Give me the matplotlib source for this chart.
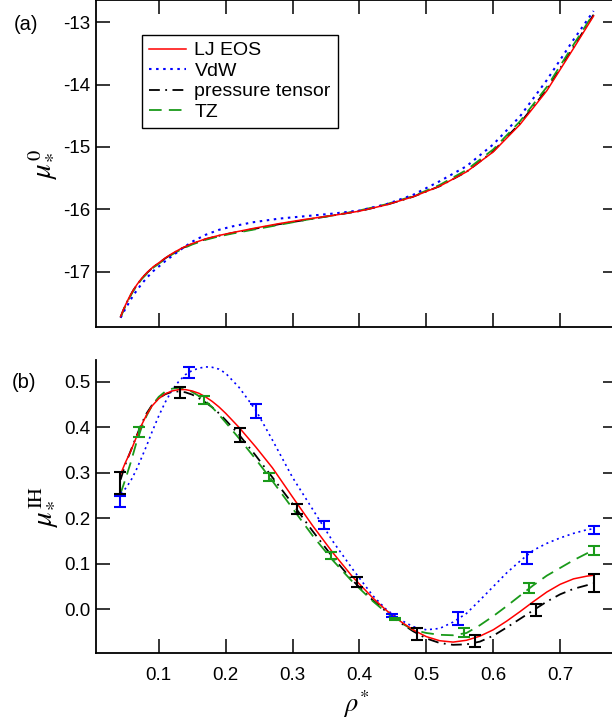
import numpy as np
import matplotlib.pyplot as plt

plt.rcParams['font.family'] = ['Liberation Sans', 'DejaVu Sans']
plt.rcParams['mathtext.fontset'] = 'stix'
plt.rcParams['axes.unicode_minus'] = False

# ---- panel (a): mu0* vs rho* ----
rho_a = [0.043, 0.047, 0.051, 0.056, 0.062, 0.068, 0.075, 0.083, 0.092, 0.10, 0.11, 0.12,
         0.135, 0.15, 0.17, 0.19, 0.21, 0.24, 0.28, 0.32, 0.36, 0.40, 0.44, 0.48, 0.52,
         0.56, 0.60, 0.64, 0.68, 0.72, 0.75]
mu0_lj = [-17.72, -17.615, -17.52, -17.41, -17.295, -17.20, -17.10, -17.01, -16.92, -16.86,
          -16.78, -16.71, -16.62, -16.55, -16.475, -16.42, -16.375, -16.31, -16.23, -16.16,
          -16.10, -16.03, -15.93, -15.80, -15.63, -15.40, -15.08, -14.64, -14.10, -13.42,
          -12.90]
mu0_vdw = [-17.74, -17.66, -17.58, -17.49, -17.38, -17.29, -17.19, -17.09, -16.99, -16.92,
           -16.83, -16.75, -16.63, -16.52, -16.41, -16.33, -16.275, -16.21, -16.15, -16.11,
           -16.07, -16.02, -15.92, -15.77, -15.55, -15.31, -14.96, -14.51, -13.93, -13.28,
           -12.82]
mu0_pt = [-17.73, -17.62, -17.525, -17.415, -17.30, -17.205, -17.105, -17.015, -16.925,
          -16.865, -16.785, -16.715, -16.625, -16.555, -16.48, -16.425, -16.38, -16.32,
          -16.24, -16.17, -16.10, -16.03, -15.93, -15.80, -15.63, -15.40, -15.07, -14.62,
          -14.08, -13.40, -12.88]
mu0_tz = [-17.74, -17.63, -17.535, -17.425, -17.31, -17.215, -17.115, -17.025, -16.935,
          -16.875, -16.795, -16.725, -16.635, -16.565, -16.49, -16.435, -16.39, -16.33,
          -16.25, -16.17, -16.10, -16.02, -15.92, -15.79, -15.61, -15.37, -15.04, -14.59,
          -14.04, -13.36, -12.86]

# ---- panel (b): muIH* vs rho* ----
rho_b = [0.043, 0.05, 0.058, 0.066, 0.074, 0.082, 0.09, 0.10, 0.11, 0.12, 0.13, 0.14, 0.15,
         0.16, 0.17, 0.18, 0.19, 0.20, 0.22, 0.245, 0.27, 0.30, 0.33, 0.36, 0.39, 0.42,
         0.44, 0.46, 0.48, 0.50, 0.52, 0.54, 0.56, 0.58, 0.60, 0.62, 0.64, 0.66, 0.68,
         0.70, 0.72, 0.74, 0.75]
ih_lj = [0.297, 0.322, 0.347, 0.376, 0.404, 0.428, 0.447, 0.463, 0.474, 0.480, 0.483, 0.483,
         0.480, 0.475, 0.467, 0.457, 0.445, 0.431, 0.400, 0.357, 0.311, 0.247, 0.184,
         0.125, 0.071, 0.025, -0.002, -0.025, -0.045, -0.060, -0.069, -0.072, -0.068,
         -0.059, -0.045, -0.026, -0.005, 0.017, 0.038, 0.055, 0.067, 0.073, 0.075]
ih_vdw = [0.255, 0.265, 0.282, 0.305, 0.332, 0.360, 0.390, 0.425, 0.456, 0.482, 0.501,
          0.516, 0.525, 0.530, 0.533, 0.532, 0.528, 0.519, 0.488, 0.438, 0.372, 0.290,
          0.220, 0.150, 0.088, 0.030, 0.000, -0.022, -0.038, -0.045, -0.042, -0.028,
          -0.009, 0.020, 0.050, 0.080, 0.106, 0.130, 0.145, 0.157, 0.167, 0.175, 0.177]
ih_pt = [0.285, 0.318, 0.348, 0.378, 0.407, 0.431, 0.449, 0.464, 0.473, 0.478, 0.479,
         0.477, 0.472, 0.464, 0.455, 0.444, 0.431, 0.416, 0.384, 0.338, 0.290, 0.232,
         0.172, 0.115, 0.063, 0.020, -0.005, -0.028, -0.048, -0.064, -0.074, -0.078,
         -0.077, -0.071, -0.058, -0.040, -0.021, -0.002, 0.017, 0.033, 0.045, 0.053, 0.057]
ih_tz = [0.255, 0.285, 0.322, 0.363, 0.398, 0.426, 0.448, 0.467, 0.479, 0.485, 0.487,
         0.484, 0.478, 0.469, 0.458, 0.444, 0.428, 0.411, 0.376, 0.330, 0.282, 0.222,
         0.162, 0.108, 0.060, 0.018, -0.007, -0.028, -0.045, -0.052, -0.056, -0.057,
         -0.052, -0.035, -0.015, 0.007, 0.030, 0.053, 0.074, 0.091, 0.108, 0.123, 0.130]

# simulation points with error bars
sim_vdw_rho = [0.042, 0.145, 0.245, 0.347, 0.448, 0.548, 0.650, 0.751]
sim_vdw_mu = [0.238, 0.521, 0.436, 0.186, -0.013, -0.020, 0.112, 0.174]
sim_vdw_err = [0.012, 0.012, 0.015, 0.009, 0.003, 0.015, 0.013, 0.009]
sim_tz_rho = [0.071, 0.168, 0.265, 0.357, 0.453, 0.557, 0.654, 0.751]
sim_tz_mu = [0.390, 0.460, 0.291, 0.118, -0.021, -0.051, 0.046, 0.130]
sim_tz_err = [0.011, 0.009, 0.009, 0.008, 0.003, 0.009, 0.011, 0.010]
sim_pt_rho = [0.042, 0.132, 0.221, 0.307, 0.396, 0.486, 0.573, 0.664, 0.751]
sim_pt_mu = [0.278, 0.477, 0.383, 0.221, 0.061, -0.054, -0.069, -0.002, 0.058]
sim_pt_err = [0.024, 0.012, 0.015, 0.011, 0.011, 0.013, 0.013, 0.013, 0.020]

labels = ['LJ EOS', 'VdW', 'pressure tensor', 'TZ']
red, blue, black, green = '#ff0000', '#0000ff', '#000000', '#1a9a1a'

fig = plt.figure(figsize=(6.12, 7.25), dpi=100)
ax1 = fig.add_axes([0.1569, 0.5483, 0.8513, 0.4517])
ax2 = fig.add_axes([0.1569, 0.0993, 0.8513, 0.4041])

st = [dict(color=red, lw=1.1, ls='-'),
      dict(color=blue, lw=1.5, ls=(0, (1.2, 2.2))),
      dict(color=black, lw=1.3, ls=(0, (6, 3, 1, 3))),
      dict(color=green, lw=1.3, ls=(0, (7, 4)))]

ax1.plot(rho_a, mu0_pt, label=labels[2], **st[2])
ax1.plot(rho_a, mu0_tz, label=labels[3], **st[3])
ax1.plot(rho_a, mu0_vdw, label=labels[1], **st[1])
ax1.plot(rho_a, mu0_lj, label=labels[0], **st[0])

ax2.plot(rho_b, ih_pt, **st[2])
ax2.plot(rho_b, ih_tz, **st[3])
ax2.plot(rho_b, ih_vdw, **dict(st[1], lw=1.2))
ax2.plot(rho_b, ih_lj, **st[0])

for r, m, e, c in [(sim_vdw_rho, sim_vdw_mu, sim_vdw_err, blue),
                   (sim_tz_rho, sim_tz_mu, sim_tz_err, green),
                   (sim_pt_rho, sim_pt_mu, sim_pt_err, black)]:
    ax2.errorbar(r, m, yerr=e, fmt='none', ecolor=c, elinewidth=1.5,
                 capsize=4.5, capthick=1.5)

# legend in the order of the reference
h, l = ax1.get_legend_handles_labels()
order = [l.index(s) for s in labels]
leg = ax1.legend([h[i] for i in order], [l[i] for i in order], loc='upper left',
                 bbox_to_anchor=(142 / 612, 1 - 35 / 725), bbox_transform=fig.transFigure,
                 fontsize=14, frameon=True, fancybox=False, framealpha=1,
                 edgecolor='black', handlelength=1.9, handletextpad=0.45,
                 labelspacing=0.15, borderpad=0.35, borderaxespad=0)
leg.get_frame().set_linewidth(1.0)

xmin, xmax = 0.0063, 0.785
ax1.set_xlim(xmin, xmax)
ax1.set_ylim(-17.896, -12.644)
ax2.set_xlim(xmin, xmax)
ax2.set_ylim(-0.096, 0.548)

xt = [0.1, 0.2, 0.3, 0.4, 0.5, 0.6, 0.7]
ax1.set_xticks(xt)
ax1.set_xticklabels([])
ax1.set_yticks([-17, -16, -15, -14, -13])
ax2.set_xticks(xt)
ax2.set_xticklabels(['0.1', '0.2', '0.3', '0.4', '0.5', '0.6', '0.7'])
ax2.set_yticks([0.0, 0.1, 0.2, 0.3, 0.4, 0.5])
ax2.set_yticklabels(['0.0', '0.1', '0.2', '0.3', '0.4', '0.5'])

ax1.tick_params(axis='both', which='both', direction='in', length=10, width=1.1,
                top=True, right=True, labelsize=13.5, pad=4)
ax2.tick_params(axis='both', which='both', direction='in', length=10, width=1.1,
                top=False, right=True, labelsize=13.5, pad=4)
ax2.tick_params(axis='x', pad=10)
for sp in ax1.spines.values():
    sp.set_linewidth(1.3)
for sp in ax2.spines.values():
    sp.set_linewidth(1.3)
ax2.spines['top'].set_visible(False)

ax1.set_ylabel(r'$\mu_{*}^{0}$', fontsize=21, labelpad=4)
ax2.set_ylabel(r'$\mu_{*}^{\mathrm{IH}}$', fontsize=21, labelpad=4)
ax2.set_xlabel(r'$\rho^{*}$', fontsize=19, labelpad=3)

fig.text(14 / 612, 1 - 25 / 725, '(a)', fontsize=14.5, va='center', ha='left')
fig.text(12 / 612, 1 - 383 / 725, '(b)', fontsize=14.5, va='center', ha='left')

fig.savefig('out.png', dpi=100)
